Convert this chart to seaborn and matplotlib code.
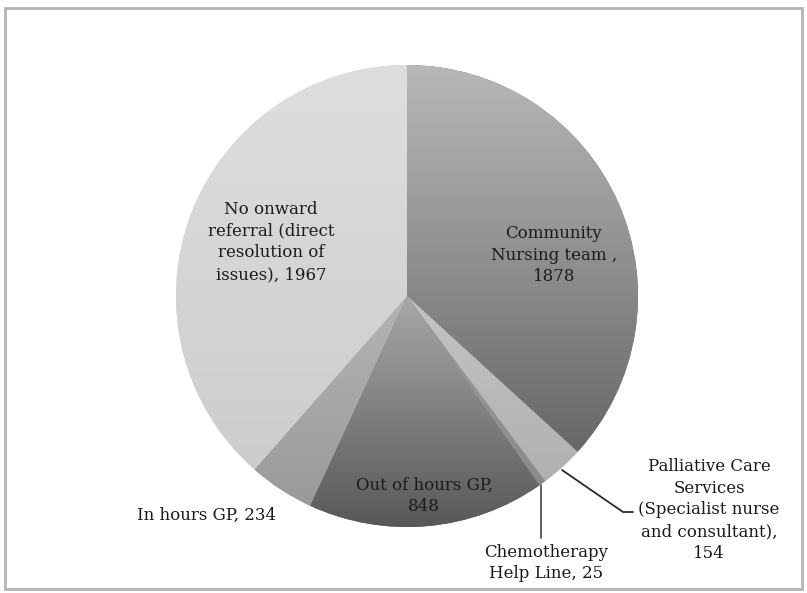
import numpy as np
import matplotlib
matplotlib.use("Agg")
import matplotlib.pyplot as plt
import seaborn as sns
from matplotlib.colors import LinearSegmentedColormap
from matplotlib.patches import Rectangle

# ---- data ----
categories = [
    "Community\nNursing team ,\n1878",
    "Palliative Care\nServices\n(Specialist nurse\nand consultant),\n154",
    "Chemotherapy\nHelp Line, 25",
    "Out of hours GP,\n848",
    "In hours GP, 234",
    "No onward\nreferral (direct\nresolution of\nissues), 1967",
]
values = [1878, 154, 25, 848, 234, 1967]

# ---- styles (top colour, bottom colour of each slice gradient) ----
grad_top = ["#b8b8b8", "#c4c4c4", "#a0a0a0", "#a8a8a8", "#b4b4b4", "#dedede"]
grad_bot = ["#676767", "#b0b0b0", "#8a8a8a", "#575757", "#9a9a9a", "#cdcdcd"]
# label positions in pixels (x, y from top)
label_pos = [(554, 255), (709, 510), (546, 563), (424, 496), (207, 515), (271, 242)]

sns.set_theme(style="white")
plt.rcParams["font.family"] = ["DejaVu Serif"]

W, H = 807, 593
fig = plt.figure(figsize=(W / 100, H / 100), dpi=100)
ax = fig.add_axes([0, 0, 1, 1])

cx, cy, R = 407, H - 296, 231
wedges, _ = ax.pie(values, startangle=90, counterclock=False,
                   center=(cx, cy), radius=R, frame=True,
                   colors=grad_bot, wedgeprops=dict(linewidth=0))
ax.set_xlim(0, W)
ax.set_ylim(0, H)
ax.set_aspect("equal")
ax.axis("off")

for w, t, b in zip(wedges, grad_top, grad_bot):
    verts = w.get_path().vertices
    y0, y1 = verts[:, 1].min(), verts[:, 1].max()
    cmap = LinearSegmentedColormap.from_list("g", [b, t])
    grad = np.linspace(0, 1, 256).reshape(-1, 1)
    im = ax.imshow(grad, cmap=cmap, origin="lower", aspect="auto",
                   extent=(cx - R - 2, cx + R + 2, y0, y1), zorder=2,
                   interpolation="bilinear")
    im.set_clip_path(w)

for lab, (x, y) in zip(categories, label_pos):
    ax.text(x, H - y, lab, ha="center", va="center", fontsize=12,
            color="#1a1a1a", linespacing=1.38, zorder=5)

# leader lines
ax.plot([562, 623, 633], [H - 470, H - 512, H - 512], color="#2a2a2a", lw=1.3, zorder=4)
ax.plot([541, 541], [H - 485, H - 538], color="#555555", lw=1.3, zorder=4)

# outer frame
ax.add_patch(Rectangle((5, H - 589), 797, 581, fill=False, edgecolor="#b5b5b5",
                       lw=2, zorder=6))

fig.savefig("out.png", dpi=100)
